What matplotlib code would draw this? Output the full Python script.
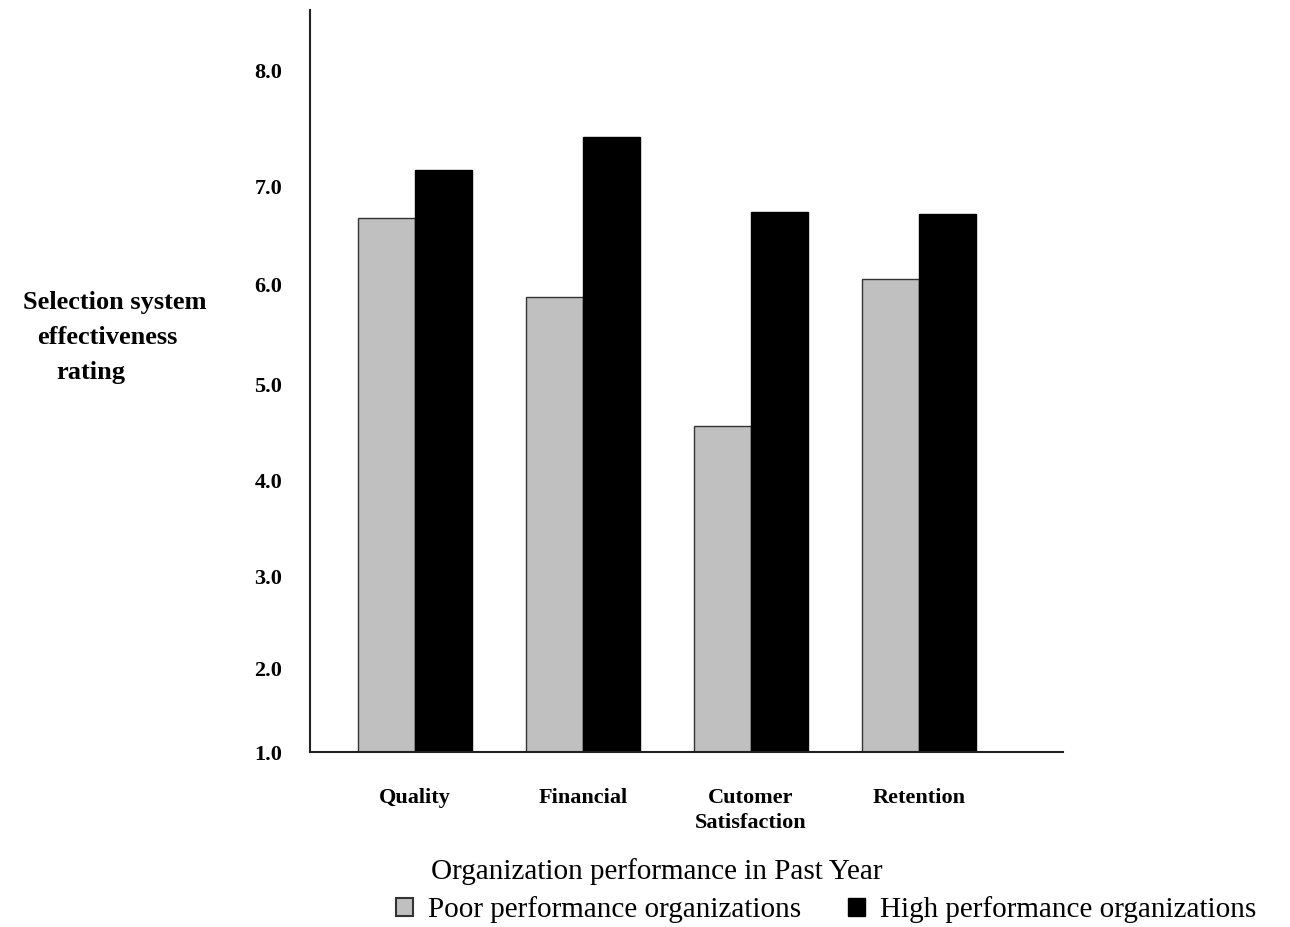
import numpy as np
import matplotlib.pyplot as plt
from matplotlib.patches import Patch

# data
categories = ['Quality', 'Financial', 'Cutomer\nSatisfaction', 'Retention']
poor = [6.68, 5.88, 4.57, 6.06]
high = [7.14, 7.42, 6.74, 6.72]
tick_vals = [1, 2, 3, 4, 5, 6, 7, 8]
tick_labels = ['1.0', '2.0', '3.0', '4.0', '5.0', '6.0', '7.0', '8.0']
ylabel_lines = ['Selection system', 'effectiveness', 'rating']

# the original axis is not evenly spaced, so use a piecewise scale
scale_vals = [0, 1, 2, 3, 4, 5, 6, 7, 8, 9]
scale_pos = [-84, 0, 84, 175, 272, 367, 467, 566, 682, 798]

def fwd(v):
    return np.interp(v, scale_vals, scale_pos)

def inv(u):
    return np.interp(u, scale_pos, scale_vals)

serif = 'Liberation Serif'
plt.rcParams['font.family'] = serif

fig = plt.figure(figsize=(12.9, 9.27), dpi=100)
ax = fig.add_axes([310/1290, 1-752/927, (1063-310)/1290, (752-10)/927])
ax.set_yscale('function', functions=(fwd, inv))

x = np.arange(len(categories))
w = 0.34
ax.bar(x - w/2, poor, w, color='#c0c0c0', edgecolor='#333333', linewidth=1)
ax.bar(x + w/2, high, w, color='black', edgecolor='black', linewidth=1)

ax.set_xlim(-0.625, 3.857)
ax.set_ylim(1, inv(742))
ax.set_yticks(tick_vals)
ax.set_yticklabels(tick_labels, fontsize=16, fontweight='bold')
ax.set_xticks(x)
ax.set_xticklabels(categories, fontsize=16, fontweight='bold', linespacing=1.3)
ax.tick_params(axis='y', length=0, pad=20)
ax.tick_params(axis='x', length=0, pad=26)
ax.yaxis.set_minor_locator(plt.NullLocator())

for s in ['top', 'right']:
    ax.spines[s].set_visible(False)
for s in ['left', 'bottom']:
    ax.spines[s].set_linewidth(1.5)
    ax.spines[s].set_color('#222222')

# y label, one line at a time (lines are indented unevenly in the original)
for line, cx, cy in zip(ylabel_lines, [115, 107, 91], [302, 338, 373]):
    fig.text(cx/1290, 1-cy/927, line, ha='center', va='center',
             fontsize=19, fontweight='bold')

fig.text(657/1290, 1-872/927, 'Organization performance in Past Year',
         ha='center', va='center', fontsize=21)

handles = [Patch(facecolor='#c0c0c0', edgecolor='#333333', linewidth=1.5),
           Patch(facecolor='black', edgecolor='black')]
fig.legend(handles, ['Poor performance organizations', 'High performance organizations'],
           loc='center', bbox_to_anchor=(826/1290, 1-910/927), ncol=2, frameon=False,
           fontsize=21, handlelength=0.6, handleheight=0.6, handletextpad=0.5,
           columnspacing=1.6, borderpad=0)

fig.savefig('out.png', dpi=100)
